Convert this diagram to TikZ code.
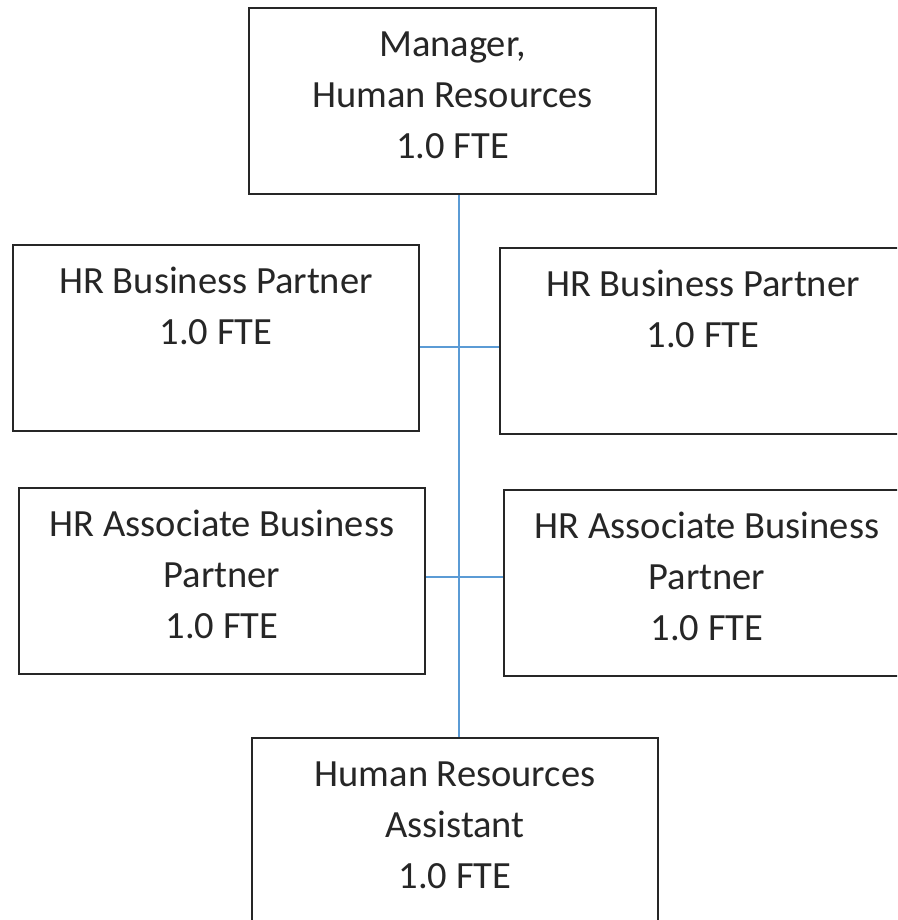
\documentclass[tikz,border=0pt]{standalone}
\usepackage{fontspec}
\setmainfont{Carlito}
\definecolor{linkblue}{HTML}{5B9BD5}
\definecolor{boxline}{HTML}{262626}
\newcommand{\boxtext}[3][406pt]{\parbox[c][186pt][t]{#1}{\centering\fontsize{38.5}{51}\selectfont\rule{0pt}{48.5pt}#2\\#3}}
\begin{document}
\begin{tikzpicture}[x=1pt,y=-1pt,
  orgbox/.style={draw=boxline,line width=2pt,inner sep=0pt,anchor=north west,fill=white,text=black!85},
  link/.style={draw=linkblue,line width=1.6pt}]
\useasboundingbox (0,0) rectangle (897,920);
\clip (0,0) rectangle (897,920);
\fill[white] (0,0) rectangle (897,920);
\coordinate (trunk) at (459,0);
\coordinate (j1) at (459,347);
\coordinate (j2) at (459,577);
\node[orgbox] (mgr) at (248,7) {\boxtext[407pt]{Manager,\\Human Resources}{1.0 FTE}};
\node[orgbox] (bpL) at (12,244) {\boxtext{HR Business Partner}{1.0 FTE}};
\node[orgbox] (bpR) at (499,247) {\boxtext{HR Business Partner}{1.0 FTE}};
\node[orgbox] (abpL) at (18,487) {\boxtext{HR Associate Business\\Partner}{1.0 FTE}};
\node[orgbox] (abpR) at (503,489) {\boxtext{HR Associate Business\\Partner}{1.0 FTE}};
\node[orgbox] (asst) at (251,737) {\boxtext{Human Resources\\Assistant}{1.0 FTE}};
\draw[link] (mgr.south -| trunk) -- (asst.north -| trunk);
\draw[link] (bpL.east |- j1) -- (bpR.west |- j1);
\draw[link] (abpL.east |- j2) -- (abpR.west |- j2);
\end{tikzpicture}
\end{document}
